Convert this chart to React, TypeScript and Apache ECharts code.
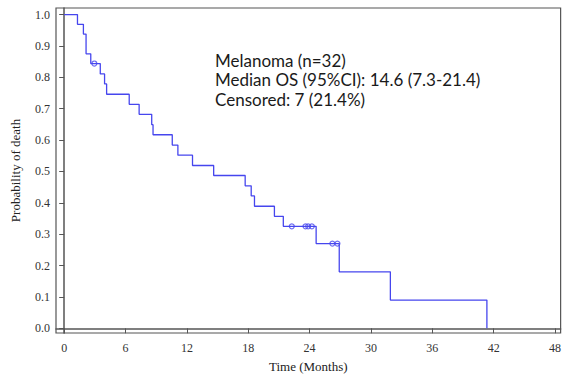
import React, { useEffect, useRef } from "react";
import * as echarts from "echarts";

// Kaplan-Meier step points (time in months, survival probability)
const eventTimes = [0, 1.3, 1.88, 2.14, 2.6, 3.53, 3.95, 4.15, 6.36, 7.33, 8.56, 8.69, 10.57, 11.12, 12.55, 14.62, 17.7, 18.29, 18.61, 20.56, 21.43, 24.64, 26.9, 31.9, 41.34];
const survival = [1.0, 0.969, 0.938, 0.875, 0.844, 0.811, 0.779, 0.746, 0.714, 0.682, 0.649, 0.617, 0.584, 0.552, 0.519, 0.487, 0.454, 0.422, 0.389, 0.357, 0.325, 0.27, 0.18, 0.09, 0.0];
// Censored observations (time in months)
const censorTimes = [2.95, 22.26, 23.6, 23.86, 24.22, 26.23, 26.72];

const xTicks = [0, 6, 12, 18, 24, 30, 36, 42, 48];
const yTicks = [0, 0.1, 0.2, 0.3, 0.4, 0.5, 0.6, 0.7, 0.8, 0.9, 1.0];

const annotationLines = [
  "Melanoma (n=32)",
  "Median OS (95%CI): 14.6 (7.3-21.4)",
  "Censored: 7 (21.4%)",
];

const LINE_COLOR = "#4646ee";
const AXIS_COLOR = "#555555";
const SERIF = "'Liberation Serif', 'Times New Roman', serif";

function survivalAt(t: number): number {
  let s = survival[0];
  for (let i = 0; i < eventTimes.length; i++) {
    if (eventTimes[i] <= t) s = survival[i];
  }
  return s;
}

export default function App() {
  const ref = useRef<HTMLDivElement>(null);
  useEffect(() => {
    if (!ref.current) return;
    const chart = echarts.init(ref.current, undefined, { renderer: "svg" });
    const stepData = eventTimes.map((t, i) => [t, survival[i]]);
    const censorData = censorTimes.map((t) => [t, survivalAt(t)]);
    chart.setOption({
      animation: false,
      backgroundColor: "#ffffff",
      grid: {
        left: 56,
        right: 0,
        top: 8,
        bottom: 45,
        show: true,
        borderColor: AXIS_COLOR,
        borderWidth: 1.2,
        backgroundColor: "transparent",
      },
      xAxis: {
        type: "value",
        min: -0.8,
        max: 48.55,
        name: "Time (Months)",
        nameLocation: "middle",
        nameGap: 27,
        nameTextStyle: { fontFamily: SERIF, fontSize: 13, color: "#222" },
        axisLine: { show: true, lineStyle: { color: AXIS_COLOR, width: 1.5 } },
        axisTick: {
          show: true,
          length: 5,
          inside: false,
          customValues: xTicks,
          lineStyle: { color: AXIS_COLOR, width: 1 },
        },
        axisLabel: {
          customValues: xTicks,
          fontFamily: SERIF,
          fontSize: 12,
          color: "#333",
          margin: 9,
          formatter: (v: number) => String(Math.round(v)),
        },
        splitLine: { show: false },
      },
      yAxis: {
        type: "value",
        min: -0.015,
        max: 1.021,
        name: "Probability of death",
        nameLocation: "middle",
        nameGap: 34,
        nameRotate: 90,
        nameTextStyle: { fontFamily: SERIF, fontSize: 13, color: "#222" },
        axisLine: { show: true, lineStyle: { color: AXIS_COLOR, width: 1.5 } },
        axisTick: {
          show: true,
          length: 5,
          customValues: yTicks,
          lineStyle: { color: AXIS_COLOR, width: 1 },
        },
        axisLabel: {
          customValues: yTicks,
          fontFamily: SERIF,
          fontSize: 12,
          color: "#333",
          margin: 6,
          formatter: (v: number) => v.toFixed(1),
        },
        splitLine: { show: false },
      },
      graphic: annotationLines.map((line, i) => ({
        type: "text",
        left: 215,
        top: 52 + i * 19.3,
        style: {
          text: line,
          font: "17px Lato, sans-serif",
          fill: "#1a1a1a",
        },
      })),
      series: [
        {
          type: "line",
          step: "end",
          data: stepData,
          showSymbol: false,
          symbol: "none",
          lineStyle: { color: LINE_COLOR, width: 1.3 },
          itemStyle: { color: LINE_COLOR },
        },
        {
          type: "scatter",
          data: censorData,
          symbol: "circle",
          symbolSize: 5,
          itemStyle: { color: "transparent", borderColor: LINE_COLOR, borderWidth: 1.2 },
        },
      ],
    });
    return () => chart.dispose();
  }, []);
  return <div ref={ref} style={{ width: 564, height: 378, position: "absolute", left: 0, top: 0 }} />;
}
